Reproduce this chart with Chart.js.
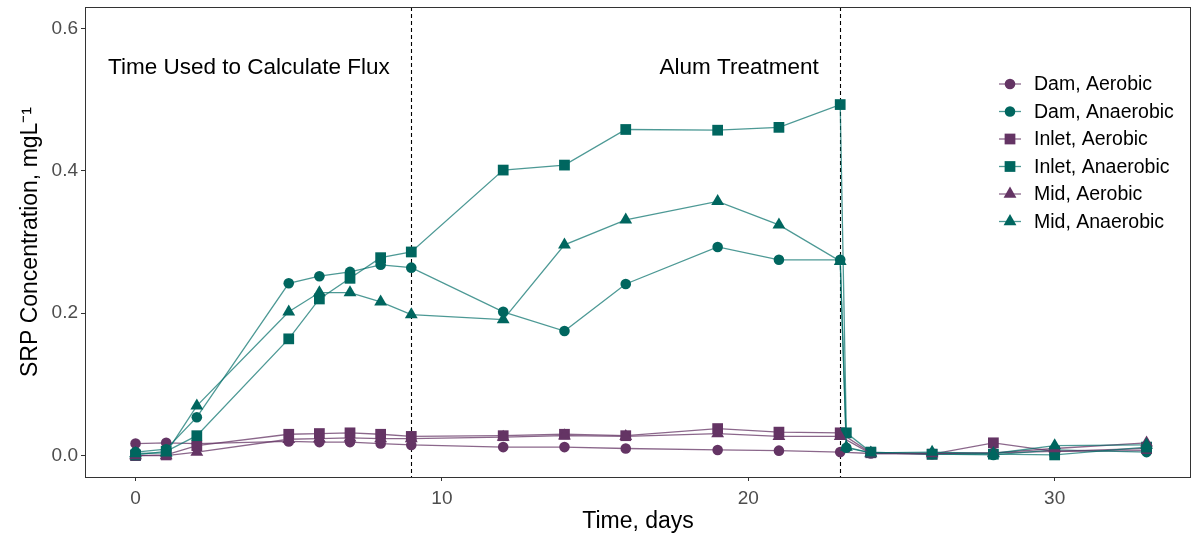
<!DOCTYPE html>
<html>
<head>
<meta charset="utf-8">
<script src="https://cdn.jsdelivr.net/npm/chart.js@4"></script>
<style>
html,body{margin:0;padding:0;background:#fff;}
#wrap{width:1193px;height:536px;position:relative;}
</style>
</head>
<body>
<div id="wrap"><canvas id="c" width="1193" height="536"></canvas></div>
<script>
// ---- data ----
const daysAerobic   = [0,1,2,5,6,7,8,9,12,14,16,19,21,23,24,26,28,30,33];
const daysAnaerobic = [0,1,2,5,6,7,8,9,12,14,16,19,21,23,23.2,24,26,28,30,33];

const damAerobic    = [0.017,0.018,0.017,0.020,0.019,0.019,0.017,0.015,0.012,0.012,0.010,0.008,0.007,0.005,0.003,0.003,0.004,0.006,0.007];
const inletAerobic  = [0.000,0.001,0.014,0.030,0.031,0.032,0.030,0.027,0.028,0.030,0.028,0.038,0.033,0.032,0.004,0.002,0.018,0.006,0.010];
const midAerobic    = [0.000,0.000,0.005,0.023,0.024,0.025,0.024,0.024,0.026,0.028,0.027,0.031,0.027,0.027,0.003,0.003,0.004,0.010,0.018];

const damAnaerobic   = [0.005,0.009,0.054,0.242,0.252,0.258,0.268,0.264,0.202,0.175,0.241,0.293,0.275,0.275,0.011,0.004,0.002,0.001,0.008,0.005];
const inletAnaerobic = [0.001,0.006,0.028,0.164,0.220,0.249,0.278,0.286,0.401,0.408,0.458,0.457,0.461,0.493,0.032,0.005,0.002,0.002,0.001,0.012];
const midAnaerobic   = [0.003,0.004,0.070,0.202,0.229,0.229,0.216,0.198,0.191,0.296,0.331,0.357,0.324,0.273,0.012,0.004,0.005,0.003,0.014,0.015];

const seriesLabels = ["Dam, Aerobic","Dam, Anaerobic","Inlet, Aerobic","Inlet, Anaerobic","Mid, Aerobic","Mid, Anaerobic"];
const xTicks = [0,10,20,30];
const yTicks = [0.0,0.2,0.4,0.6];
const refLines = [9,23];
const annotations = [
  {text:"Time Used to Calculate Flux", x:3.7, y:0.545},
  {text:"Alum Treatment", x:19.7, y:0.545}
];

// ---- styles ----
const PURPLE = "#643464", TEAL = "#00665f";
const PURPLE_L = "rgba(100,52,100,0.75)", TEAL_L = "rgba(0,110,104,0.7)";
const FONT = "'Liberation Sans', Arial, sans-serif";

function pts(xs, ys){ return xs.map((x,i)=>({x:x,y:ys[i]})); }
const specs = [
  {d:pts(daysAerobic,damAerobic),     c:PURPLE, l:PURPLE_L, s:'circle',   r:5.3},
  {d:pts(daysAnaerobic,damAnaerobic), c:TEAL,   l:TEAL_L,   s:'circle',   r:5.3},
  {d:pts(daysAerobic,inletAerobic),   c:PURPLE, l:PURPLE_L, s:'rect',     r:7.6},
  {d:pts(daysAnaerobic,inletAnaerobic),c:TEAL,  l:TEAL_L,   s:'rect',     r:7.6},
  {d:pts(daysAerobic,midAerobic),     c:PURPLE, l:PURPLE_L, s:'triangle', r:7.4},
  {d:pts(daysAnaerobic,midAnaerobic), c:TEAL,   l:TEAL_L,   s:'triangle', r:7.4}
];
const datasets = specs.map((s,i)=>({
  label: seriesLabels[i],
  data: s.d,
  showLine: true,
  borderColor: s.l,
  borderWidth: 1.3,
  pointStyle: s.s,
  pointRadius: s.r,
  pointBackgroundColor: s.c,
  pointBorderColor: s.c,
  pointBorderWidth: 0,
  order: 5 - i
}));

const decor = {
  id:'decor',
  beforeDatasetsDraw(chart){
    const {ctx, chartArea:a, scales:{x}} = chart;
    ctx.save();
    ctx.strokeStyle = '#000'; ctx.lineWidth = 1.1; ctx.setLineDash([4,3]);
    refLines.forEach(v=>{
      const px = Math.round(x.getPixelForValue(v))+0.5;
      ctx.beginPath(); ctx.moveTo(px,a.top); ctx.lineTo(px,a.bottom); ctx.stroke();
    });
    ctx.restore();
  },
  afterDatasetsDraw(chart){
    const {ctx, chartArea:a, scales:{x,y}} = chart;
    ctx.save();
    // panel border
    ctx.strokeStyle = '#333'; ctx.lineWidth = 1;
    ctx.strokeRect(a.left+0.5, a.top+0.5, a.right-a.left-1, a.bottom-a.top);
    // annotations
    ctx.fillStyle = '#000'; ctx.font = "22.5px " + FONT;
    ctx.textAlign = 'center'; ctx.textBaseline = 'middle';
    annotations.forEach(t=>ctx.fillText(t.text, x.getPixelForValue(t.x), y.getPixelForValue(t.y)));
    // legend
    const lx = 999, lw = 22, ty0 = 84, dy = 27.5;
    ctx.font = "19.5px " + FONT; ctx.textAlign = 'left';
    specs.forEach((s,i)=>{
      const yy = ty0 + i*dy;
      ctx.strokeStyle = s.l; ctx.lineWidth = 1.3;
      ctx.beginPath(); ctx.moveTo(lx,yy); ctx.lineTo(lx+lw,yy); ctx.stroke();
      ctx.fillStyle = s.c; ctx.strokeStyle = s.c;
      Chart.helpers.drawPoint(ctx, {pointStyle:s.s, radius:s.r, rotation:0, borderWidth:0}, lx+lw/2, yy);
      ctx.fillStyle = '#000';
      ctx.fillText(seriesLabels[i], 1034, yy+1);
    });
    ctx.restore();
  }
};

function noPad(s){ s.paddingTop = 0; s.paddingBottom = 0; s.paddingLeft = 0; s.paddingRight = 0; }

new Chart(document.getElementById('c'), {
  type: 'scatter',
  data: {datasets},
  plugins: [decor],
  options: {
    responsive: false,
    animation: false,
    devicePixelRatio: 1,
    layout: {autoPadding: false, padding: {top: 7, right: 2, left: 0, bottom: 0}},
    plugins: {legend: {display: false}, tooltip: {enabled: false}},
    scales: {
      x: {
        type: 'linear', min: -1.65, max: 34.45,
        afterFit(s){ s.height = 59; noPad(s); },
        afterBuildTicks(s){ s.ticks = xTicks.map(v=>({value:v})); },
        grid: {drawOnChartArea: false, drawTicks: true, tickLength: 4, color: '#333', lineWidth: 1},
        border: {display: false},
        ticks: {color: '#4d4d4d', font: {family: FONT, size: 19}, padding: 6, maxRotation: 0,
                callback: v => String(v)},
        title: {display: true, text: 'Time, days', color: '#000', font: {family: FONT, size: 23}, padding: {top: 0, bottom: 1}}
      },
      y: {
        type: 'linear', min: -0.03, max: 0.63,
        afterFit(s){ s.width = 85; noPad(s); },
        afterBuildTicks(s){ s.ticks = yTicks.map(v=>({value:v})); },
        grid: {drawOnChartArea: false, drawTicks: true, tickLength: 4, color: '#333', lineWidth: 1},
        border: {display: false},
        ticks: {color: '#4d4d4d', font: {family: FONT, size: 19}, padding: 3,
                callback: v => Number(v).toFixed(1)},
        title: {display: true, text: 'SRP Concentration, mgL\u207B\u00B9', color: '#000', font: {family: FONT, size: 23}, padding: {top: 17, bottom: 0}}
      }
    }
  }
});
</script>
</body>
</html>
